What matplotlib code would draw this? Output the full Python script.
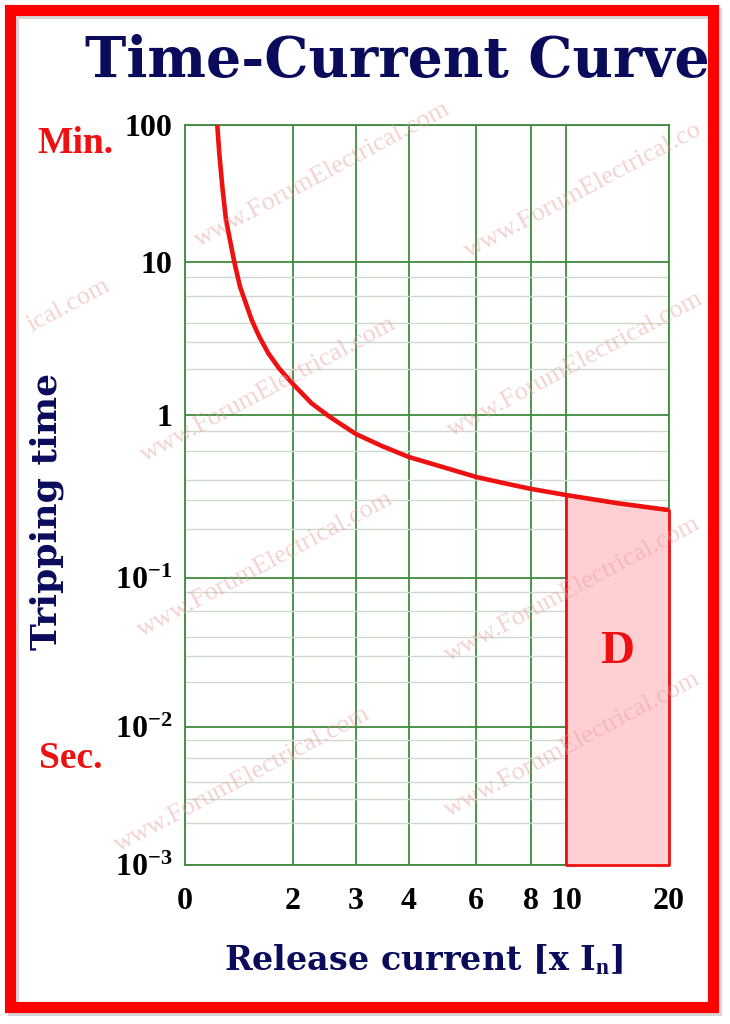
import numpy as np
import matplotlib
matplotlib.use("Agg")
import matplotlib.pyplot as plt
from matplotlib.patches import Rectangle

plt.rcParams['mathtext.fontset'] = 'custom'
plt.rcParams['mathtext.rm'] = 'Liberation Serif'
plt.rcParams['mathtext.bf'] = 'Liberation Serif:bold'
plt.rcParams['mathtext.it'] = 'Liberation Serif:italic'

# ---------------- data ----------------
x_ticks = [0, 2, 3, 4, 6, 8, 10, 20]
x_tick_labels = ['0', '2', '3', '4', '6', '8', '10', '20']
y_ticks = [1e-3, 1e-2, 1e-1, 1, 10, 100]
y_tick_labels = [r'10$^{\mathbf{-3}}$', r'10$^{\mathbf{-2}}$', r'10$^{\mathbf{-1}}$', '1', '10', '100']
y_minor = [m * 10.0 ** d for d in (-3, -2, -1, 0) for m in (2, 3, 4, 6, 8)]

curve_x = [0.598, 0.635, 0.691, 0.759, 0.913, 1.019, 1.235, 1.376, 1.543, 1.741, 1.987,
           2.297, 2.587, 3.0, 3.49, 4.0, 5.0, 6.0, 6.98, 8.0, 10.0, 14.95, 20.0]
curve_y = [100, 62.1, 35.5, 20.3, 10.0, 6.90, 4.18, 3.25, 2.53, 2.02, 1.61,
           1.19, 0.972, 0.764, 0.645, 0.552, 0.48, 0.417, 0.383, 0.352, 0.323, 0.288, 0.261]

zone_x = [10.0, 14.95, 20.0]
zone_top = [0.323, 0.288, 0.261]
zone_bottom = 1e-3
zone_label = 'D'
zone_label_xy = (15.0, 0.032)

title = 'Time-Current Curve'
x_label = r'Release current [x I$_{\mathbf{n}}$]'
y_label = 'Tripping time'
watermark = 'www.ForumElectrical.com'

# ---------------- scales (hand-drawn, non-uniform grid) ----------------
XK = [0, 2, 3, 4, 6, 8, 10, 20]
XP = [0, 108, 171, 224, 291, 346, 381, 484]
YK = [-3, -2, -1, 0, 1, 2]
YP = [0, 138, 287, 450, 603, 740]


def fx(x):
    return np.interp(np.asarray(x, dtype=float), XK, XP)


def ifx(p):
    return np.interp(np.asarray(p, dtype=float), XP, XK)


def fy(y):
    y = np.clip(np.asarray(y, dtype=float), 1e-9, None)
    return np.interp(np.log10(y), YK, YP)


def ify(p):
    return 10 ** np.interp(np.asarray(p, dtype=float), YP, YK)


W, H = 730, 1024
fig = plt.figure(figsize=(W / 100, H / 100), dpi=100)
fig.patch.set_facecolor('white')


def fxp(px):
    return px / W


def fyp(py):
    return 1 - py / H


NAVY = '#0b0b5c'
RED = '#ee1111'
GREEN = '#3f8a3f'

ax = fig.add_axes([185 / W, 159 / H, 484 / W, 740 / H])
ax.set_xscale('function', functions=(fx, ifx))
ax.set_yscale('function', functions=(fy, ify))
ax.set_xlim(0, 20)
ax.set_ylim(1e-3, 100)

ax.set_xticks(x_ticks)
ax.set_xticklabels(x_tick_labels)
ax.set_yticks(y_ticks)
ax.set_yticklabels(y_tick_labels)
ax.set_yticks(y_minor, minor=True)
ax.xaxis.set_minor_locator(matplotlib.ticker.NullLocator())
ax.tick_params(which='both', length=0)
ax.tick_params(axis='x', pad=16)
ax.tick_params(axis='y', pad=9)
for lab in ax.get_xticklabels() + ax.get_yticklabels():
    lab.set_fontfamily('Liberation Serif')
    lab.set_fontweight('bold')
    lab.set_fontsize(23)
    lab.set_color('black')

ax.set_axisbelow(True)
ax.grid(which='minor', axis='y', color='#cfd9cf', lw=1.0)
ax.grid(which='major', color=GREEN, lw=1.3)
for s in ax.spines.values():
    s.set_color(GREEN)
    s.set_linewidth(1.3)

ax.fill_between(zone_x, zone_bottom, zone_top, facecolor='#ffd0d3',
                edgecolor=RED, lw=2.0, zorder=3, clip_on=False)
ax.plot(curve_x, curve_y, color=RED, lw=3.3, zorder=4, solid_capstyle='butt',
        solid_joinstyle='round')
ax.text(zone_label_xy[0], zone_label_xy[1], zone_label, ha='center', va='center',
        color=RED, fontsize=34, fontweight='bold', family='Liberation Serif', zorder=5)

# ---------------- texts ----------------
fig.text(fxp(397), fyp(77), title, ha='center', va='baseline', fontsize=40,
         family='DejaVu Serif', fontweight='bold', color=NAVY)
fig.text(fxp(424), fyp(970), x_label, ha='center', va='baseline', fontsize=24,
         family='DejaVu Serif', fontweight='bold', color=NAVY)
fig.text(fxp(47), fyp(511), y_label, ha='center', va='center', rotation=90, fontsize=26,
         family='DejaVu Serif', fontweight='bold', color=NAVY)
fig.text(fxp(75), fyp(153), 'Min.', ha='center', va='baseline', fontsize=27,
         family='Liberation Serif', fontweight='bold', color=RED)
fig.text(fxp(71), fyp(768), 'Sec.', ha='center', va='baseline', fontsize=27,
         family='Liberation Serif', fontweight='bold', color=RED)

# ---------------- watermarks ----------------
wm_items = [(322, 175, watermark), (583, 190, 'www.ForumElectrical.co'),
            (268, 390, watermark), (575, 365, watermark), (265, 565, watermark),
            (572, 590, watermark), (242, 780, watermark), (572, 745, watermark),
            (68, 305, 'ical.com')]
for cx, cy, s in wm_items:
    fig.text(fxp(cx), fyp(cy), s, ha='center', va='center', rotation=28,
             rotation_mode='anchor', fontsize=19, family='Liberation Serif',
             color='#e89a9a', alpha=0.45, zorder=10)

# ---------------- frame ----------------
fig.add_artist(Rectangle((12.5 / W, 1 - 1010 / H), 703 / W, 997 / H, transform=fig.transFigure,
                         facecolor='none', edgecolor='#888888', lw=8, alpha=0.35, zorder=19))
fig.add_artist(Rectangle((9.5 / W, 1 - 1007 / H), 703 / W, 997 / H, transform=fig.transFigure,
                         facecolor='none', edgecolor='#ff0000', lw=8, zorder=20))

fig.savefig('out.png', dpi=100)
